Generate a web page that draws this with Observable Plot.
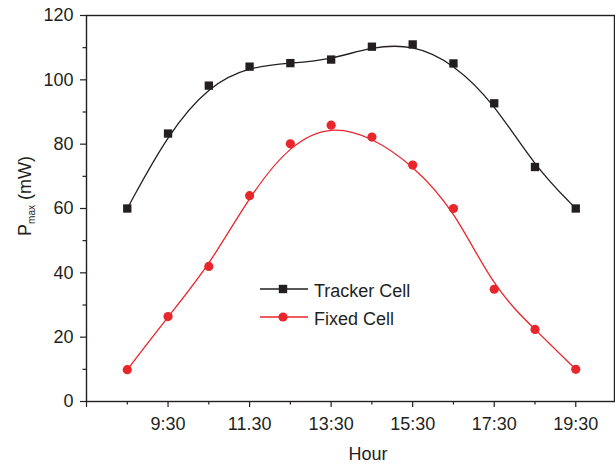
<!DOCTYPE html>
<html>
<head>
<meta charset="utf-8">
<script src="https://cdn.jsdelivr.net/npm/d3@7"></script>
<script src="https://cdn.jsdelivr.net/npm/@observablehq/plot@0.6"></script>
<style>
  html, body { margin: 0; padding: 0; background: #fff; }
  #chart { width: 615px; height: 466px; position: relative; }
</style>
</head>
<body>
<div id="chart"></div>
<script>
// Data (hours as decimal: 8.5 = 8:30)
const hours   = [8.5, 9.5, 10.5, 11.5, 12.5, 13.5, 14.5, 15.5, 16.5, 17.5, 18.5, 19.5];
const tracker = [60.0, 83.3, 98.2, 104.1, 105.2, 106.3, 110.3, 111.0, 105.1, 92.7, 72.9, 60.0];
const fixed   = [9.9, 26.4, 42.0, 64.0, 80.1, 85.9, 82.2, 73.5, 60.0, 34.9, 22.4, 10.0];
const seriesNames = ["Tracker Cell", "Fixed Cell"];
const xMajorTicks = [7.5, 9.5, 11.5, 13.5, 15.5, 17.5, 19.5];
const xTickLabels = ["", "9:30", "11.30", "13:30", "15:30", "17:30", "19:30"];
const xMinorTicks = [8.5, 10.5, 12.5, 14.5, 16.5, 18.5];
const yMajorTicks = [0, 20, 40, 60, 80, 100, 120];
const yMinorTicks = [10, 30, 50, 70, 90, 110];
const xTitle = "Hour";

const ink = "#231f20";
const red = "#e8262b";
const FS = "18px";

const trackerData = hours.map((h, i) => ({h, v: tracker[i]}));
const fixedData = hours.map((h, i) => ({h, v: fixed[i]}));
const xLabelMap = new Map(xMajorTicks.map((t, i) => [t, xTickLabels[i]]));

const W = 615, H = 466, mL = 86, mR = 1, mT = 15, mB = 65;

const chart = Plot.plot({
  width: W, height: H,
  marginLeft: mL, marginRight: mR, marginTop: mT, marginBottom: mB,
  style: {fontFamily: "'Liberation Sans', Arial, sans-serif", fontSize: FS, color: ink, background: "#fff"},
  x: {domain: [7.5, 20.45]},
  y: {domain: [0, 120]},
  marks: [
    Plot.axisX(xMajorTicks, {tickSize: 6, tickPadding: 10, tickFormat: d => xLabelMap.get(d), label: null, stroke: ink, strokeWidth: 1.2, fill: ink}),
    Plot.axisX(xMinorTicks, {tickSize: 3.5, tickFormat: () => "", label: null, stroke: ink, strokeWidth: 1.2}),
    Plot.axisY(yMajorTicks, {tickSize: 6, tickPadding: 7, label: null, stroke: ink, strokeWidth: 1.2, fill: ink}),
    Plot.axisY(yMinorTicks, {tickSize: 3.5, tickFormat: () => "", label: null, stroke: ink, strokeWidth: 1.2}),
    Plot.frame({stroke: ink, strokeWidth: 1.4}),
    Plot.line(trackerData, {x: "h", y: "v", curve: "basis", stroke: ink, strokeWidth: 1.3}),
    Plot.line(fixedData, {x: "h", y: "v", curve: "basis", stroke: red, strokeWidth: 1.3}),
    Plot.dot(trackerData, {x: "h", y: "v", symbol: "square", r: 4.7, fill: ink, stroke: null}),
    Plot.dot(fixedData, {x: "h", y: "v", symbol: "circle", r: 4.6, fill: red, stroke: null})
  ]
});
document.getElementById("chart").appendChild(chart);

const svg = d3.select(chart);
// Y axis title with subscript
const yt = svg.append("text")
  .attr("transform", "translate(31,196) rotate(-90)")
  .attr("text-anchor", "middle")
  .attr("fill", ink)
  .style("font-size", FS);
yt.append("tspan").text("P");
yt.append("tspan").attr("dy", 4).style("font-size", "10px").text("max");
yt.append("tspan").attr("dy", -4).text(" (mW)");

// X axis title
svg.append("text")
  .attr("x", 368).attr("y", 460)
  .attr("text-anchor", "middle")
  .attr("fill", ink)
  .style("font-size", FS)
  .text(xTitle);

// Legend
const legend = svg.append("g").attr("text-anchor", "start");
[[ink, "square", 289], [red, "circle", 317]].forEach(([c, s, y], i) => {
  legend.append("line").attr("x1", 260).attr("x2", 308).attr("y1", y).attr("y2", y)
    .attr("stroke", c).attr("stroke-width", 1.3);
  if (s === "square") {
    legend.append("rect").attr("x", 283 - 4.2).attr("y", y - 4.2).attr("width", 8.4).attr("height", 8.4).attr("fill", c);
  } else {
    legend.append("circle").attr("cx", 283).attr("cy", y).attr("r", 4.6).attr("fill", c);
  }
  legend.append("text").attr("x", 314).attr("y", y).attr("dy", "0.42em")
    .attr("text-anchor", "start")
    .attr("fill", ink).style("font-size", FS).text(seriesNames[i]);
});
</script>
</body>
</html>
